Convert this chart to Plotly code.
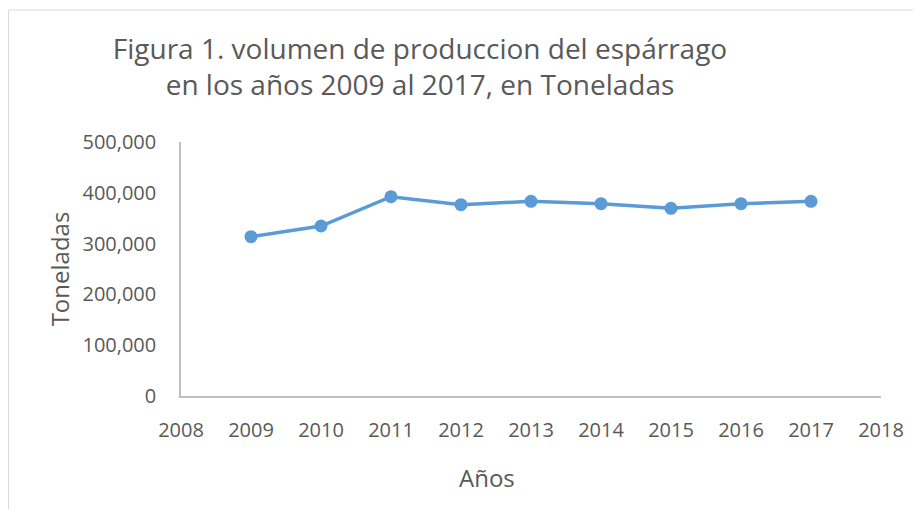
import plotly.graph_objects as go

years = [2009, 2010, 2011, 2012, 2013, 2014, 2015, 2016, 2017]
toneladas = [313600, 334600, 392300, 376600, 383200, 378500, 369400, 378500, 383200]
x_ticks = list(range(2008, 2019))
y_ticks = [0, 100000, 200000, 300000, 400000, 500000]
y_labels = ["0", "100,000", "200,000", "300,000", "400,000", "500,000"]

FONT = "Open Sans"
GRAY = "#595959"

fig = go.Figure()
fig.add_trace(go.Scatter(
    x=years, y=toneladas, mode="lines+markers",
    line=dict(color="#5B9BD5", width=3.5),
    marker=dict(color="#5B9BD5", size=13),
    showlegend=False,
))

L, R, T, B = 173, 48, 134, 121
W, H = 921, 509
pw = W - L - R
ph = H - T - B

fig.update_layout(
    width=W, height=H,
    margin=dict(l=L, r=R, t=T, b=B),
    paper_bgcolor="white", plot_bgcolor="white",
    font=dict(family=FONT, color=GRAY, size=20),
    title=dict(
        text="Figura 1. volumen de produccion del espárrago<br>en los años 2009 al 2017, en Toneladas",
        x=412 / W, xanchor="center", y=1 - 51 / H, yanchor="top",
        font=dict(family=FONT, size=28, color=GRAY),
    ),
    xaxis=dict(
        range=[2008, 2018], tickvals=x_ticks, ticktext=[str(v) for v in x_ticks],
        showgrid=False, zeroline=False, showline=True, linecolor="#bfbfbf", linewidth=1.5,
        ticks="", ticklabelstandoff=15,
    ),
    yaxis=dict(
        range=[0, 500000], tickvals=y_ticks, ticktext=y_labels,
        showgrid=False, zeroline=False, showline=True, linecolor="#bfbfbf", linewidth=1.5,
        ticks="", ticklabelstandoff=19,
        title=dict(text="Toneladas", font=dict(size=24, color=GRAY), standoff=6),
    ),
    annotations=[dict(
        text="Años", xref="paper", yref="paper", x=0.437, y=-0.319,
        xanchor="center", yanchor="middle", showarrow=False,
        font=dict(size=24, color=GRAY),
    )],
    shapes=[dict(
        type="rect", xref="paper", yref="paper",
        x0=(0.5 - L) / pw, x1=(W + 5 - L) / pw,
        y0=(H - B - (H + 5)) / ph, y1=(H - B - 2) / ph,
        line=dict(color="#d9d9d9", width=1), fillcolor="rgba(0,0,0,0)", layer="below",
    )],
)

fig.write_html("out.html")
